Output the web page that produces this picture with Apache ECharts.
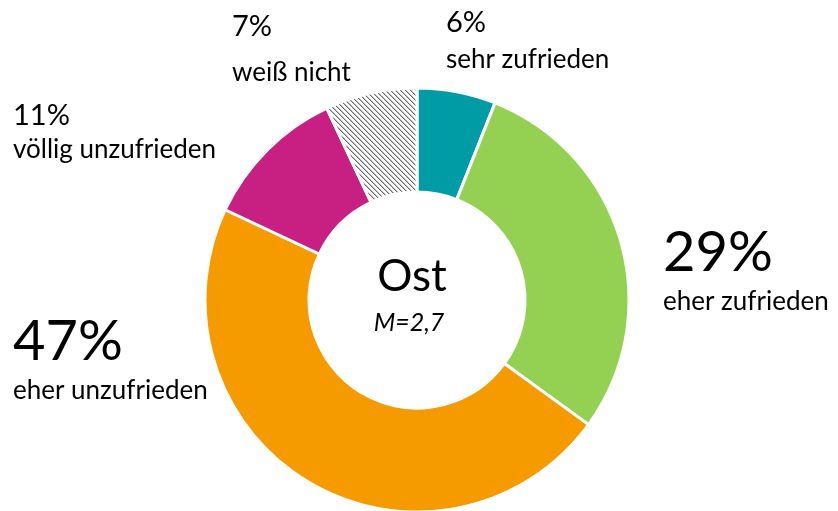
<!DOCTYPE html>
<html>
<head>
<meta charset="utf-8">
<script src="https://cdn.jsdelivr.net/npm/echarts@6/dist/echarts.min.js"></script>
<style>html,body{margin:0;padding:0;background:#fff}#c{width:838px;height:511px}</style>
</head>
<body>
<div id="c"></div>
<script>
const categories = ['sehr zufrieden', 'eher zufrieden', 'eher unzufrieden', 'völlig unzufrieden', 'weiß nicht'];
const values = [6, 29, 47, 11, 7];
const centerTitle = 'Ost';
const centerSub = 'M=2,7';

const FONT = 'Lato, "Open Sans", sans-serif';

// hatch pattern for "weiß nicht"
const pc = document.createElement('canvas');
pc.width = 5; pc.height = 5;
const g = pc.getContext('2d');
g.fillStyle = '#ffffff'; g.fillRect(0, 0, 5, 5);
for (let i = 0; i < 5; i++) {
  g.fillStyle = '#6a6a6a'; g.fillRect(i, i, 1, 1);
  g.fillStyle = '#c0c0c0'; g.fillRect((i + 1) % 5, i, 1, 1);
}

const colors = ['#009CA6', '#94D152', '#F59B00', '#C81F82', { image: pc, repeat: 'repeat' }];
const bigIdx = [1, 2];
const labelPos = [[446, 3], [663, 221], [13, 99], [13, 99], [232, -2]];
labelPos[2] = [13, 310];
const pctLineHeight = [40, 64, 64, 34, 58];

const data = categories.map((name, i) => {
  const big = bigIdx.indexOf(i) >= 0;
  return {
    name: name,
    value: values[i],
    itemStyle: { color: colors[i] },
    label: {
      rich: {
        p: { fontFamily: FONT, fontSize: big ? 56 : 29, lineHeight: pctLineHeight[i], color: '#000' },
        n: { fontFamily: FONT, fontSize: 26, lineHeight: 34, color: '#000' }
      }
    }
  };
});

const chart = echarts.init(document.getElementById('c'), null, { renderer: 'canvas' });
chart.setOption({
  animation: false,
  backgroundColor: '#fff',
  series: [{
    type: 'pie',
    center: [417, 300],
    radius: [108, 212],
    startAngle: 90,
    clockwise: true,
    avoidLabelOverlap: false,
    itemStyle: { borderColor: '#fff', borderWidth: 3 },
    label: {
      show: true,
      formatter: '{p|{c}%}\n{n|{b}}',
      align: 'left'
    },
    labelLine: { show: false },
    labelLayout: function (params) {
      const p = labelPos[params.dataIndex];
      return { x: p[0], y: p[1], align: 'left', verticalAlign: 'top', hideOverlap: false };
    },
    emphasis: { disabled: true },
    data: data
  }],
  graphic: [
    { type: 'text', x: 412, y: 277, style: { text: centerTitle, font: '44px ' + FONT, fill: '#000', textAlign: 'center', textVerticalAlign: 'middle' } },
    { type: 'text', x: 409, y: 323, style: { text: centerSub, font: 'italic 25px ' + FONT, fill: '#000', textAlign: 'center', textVerticalAlign: 'middle' } }
  ]
});
</script>
</body>
</html>
